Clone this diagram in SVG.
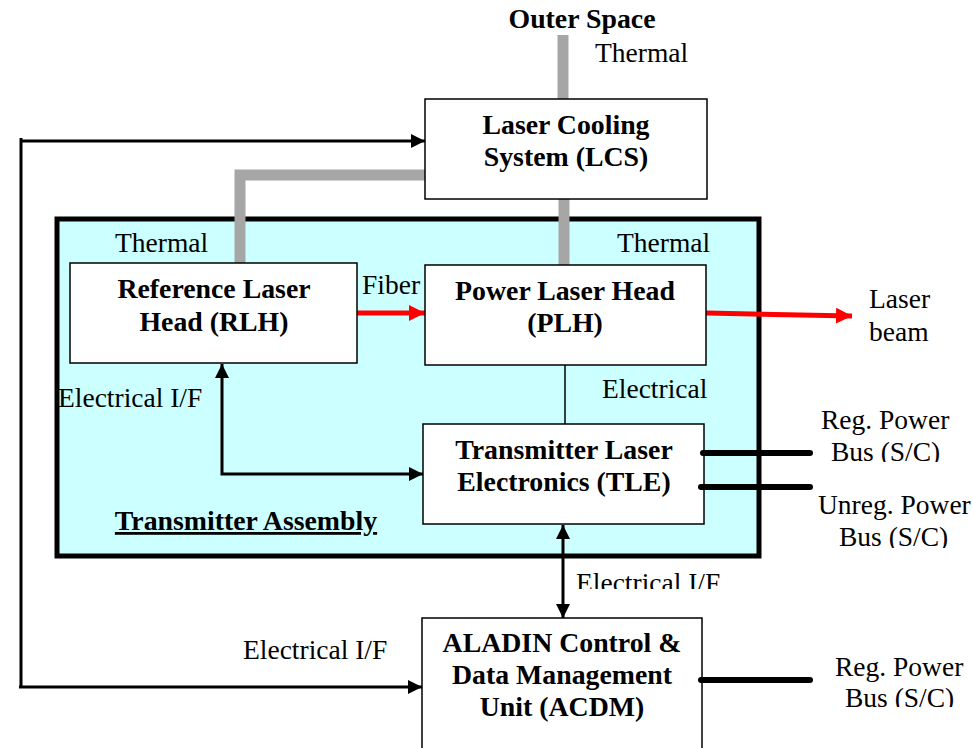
<svg xmlns="http://www.w3.org/2000/svg" width="974" height="748" viewBox="0 0 974 748">
<style>
.b{font-family:"Liberation Serif","Times New Roman",serif;font-weight:bold;font-size:27.8px;fill:#000;text-anchor:middle}
.t{font-family:"Liberation Serif","Times New Roman",serif;font-size:27.5px;fill:#000}
.box{fill:#fff;stroke:#000;stroke-width:1.5}
.pipe{fill:none;stroke:#a6a6a6;stroke-width:11}
.arr{fill:none;stroke:#000;stroke-width:3}
.bus{fill:none;stroke:#000;stroke-width:6;stroke-linecap:round}
</style>
<defs>
<marker id="ah" markerUnits="userSpaceOnUse" markerWidth="16" markerHeight="16" refX="14" refY="7" orient="auto-start-reverse"><path d="M0,0 L14,7 L0,14 Z" fill="#000"/></marker>
<marker id="rh" markerUnits="userSpaceOnUse" markerWidth="18" markerHeight="18" refX="16" refY="8" orient="auto"><path d="M0,0 L16,8 L0,16 Z" fill="#ff0000"/></marker>
<clipPath id="c1"><rect x="560" y="560" width="200" height="29"/></clipPath>
<clipPath id="c2"><rect x="810" y="430" width="164" height="32"/></clipPath>
<clipPath id="c3"><rect x="810" y="680" width="164" height="27"/></clipPath>
<clipPath id="c4"><rect x="810" y="515" width="164" height="33"/></clipPath>
</defs>

<g id="transmitter-assembly">
<rect x="57" y="219" width="702" height="337" fill="#ccffff" stroke="#000" stroke-width="5"/>
<text class="b" x="246" y="530" style="text-decoration:underline">Transmitter Assembly</text>
</g>

<g id="connectors">
<path class="pipe" d="M563,35 V99"/>
<path class="pipe" d="M564,199 V265"/>
<path class="pipe" d="M425,175 H240 V265"/>
<path class="arr" d="M21,138 V687"/>
<path class="arr" d="M21,141 H425" marker-end="url(#ah)"/>
<path class="arr" d="M19,687 H422" marker-end="url(#ah)"/>
<path class="arr" d="M222,364 V474 H423" marker-start="url(#ah)" marker-end="url(#ah)"/>
<path class="arr" d="M563,525 V618" marker-start="url(#ah)" marker-end="url(#ah)"/>
<path d="M565,365 V424" stroke="#000" stroke-width="1.5"/>
<path d="M357,313 H425" stroke="#ff0000" stroke-width="5" marker-end="url(#rh)"/>
<path d="M706,313 L852,316" stroke="#ff0000" stroke-width="5" marker-end="url(#rh)"/>
</g>

<g id="lcs">
<rect class="box" x="425" y="99" width="282" height="100"/>
<text class="b" x="566" y="134">Laser Cooling</text>
<text class="b" x="566" y="166">System (LCS)</text>
</g>

<g id="rlh">
<rect class="box" x="70" y="263" width="287" height="100"/>
<text class="b" x="214" y="298">Reference Laser</text>
<text class="b" x="214" y="331">Head (RLH)</text>
</g>

<g id="plh">
<rect class="box" x="425" y="265" width="281" height="100"/>
<text class="b" x="565" y="300">Power Laser Head</text>
<text class="b" x="565" y="332">(PLH)</text>
</g>

<g id="tle">
<rect class="box" x="423" y="424" width="281" height="100"/>
<text class="b" x="564" y="459">Transmitter Laser</text>
<text class="b" x="564" y="491">Electronics (TLE)</text>
</g>

<g id="acdm">
<rect class="box" x="422" y="618" width="280" height="140"/>
<text class="b" x="562" y="652">ALADIN Control &amp;</text>
<text class="b" x="562" y="684">Data Management</text>
<text class="b" x="562" y="716">Unit (ACDM)</text>
</g>

<g id="buses">
<path class="bus" d="M703,453 H810"/>
<path class="bus" d="M701,487 H810"/>
<path class="bus" d="M701,680 H810"/>
</g>

<g id="labels">
<text class="b" x="582" y="28">Outer Space</text>
<text class="t" x="595" y="62">Thermal</text>
<text class="t" x="115" y="252">Thermal</text>
<text class="t" x="617" y="252">Thermal</text>
<text class="t" x="362" y="294">Fiber</text>
<text class="t" x="869" y="308">Laser</text>
<text class="t" x="869" y="341">beam</text>
<text class="t" x="58" y="407">Electrical I/F</text>
<text class="t" x="602" y="398">Electrical</text>
<text class="t" x="576" y="592" clip-path="url(#c1)">Electrical I/F</text>
<text class="t" x="243" y="659">Electrical I/F</text>
<text class="t" x="821" y="429">Reg. Power</text>
<text class="t" x="831" y="461" clip-path="url(#c2)">Bus (S/C)</text>
<text class="t" x="818" y="514">Unreg. Power</text>
<text class="t" x="839" y="546" clip-path="url(#c4)">Bus (S/C)</text>
<text class="t" x="835" y="676">Reg. Power</text>
<text class="t" x="845" y="707" clip-path="url(#c3)">Bus (S/C)</text>
</g>
</svg>
